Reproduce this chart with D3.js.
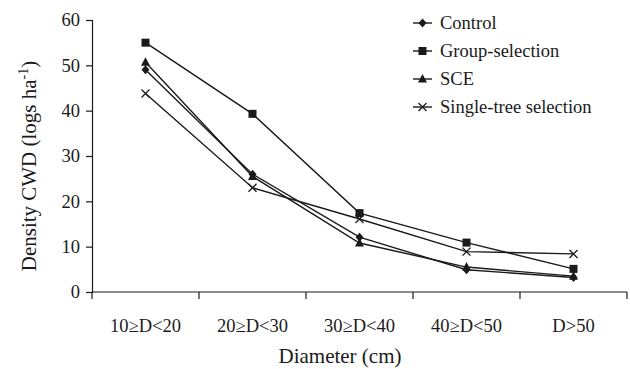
<!DOCTYPE html>
<html>
<head>
<meta charset="utf-8">
<script src="https://cdn.jsdelivr.net/npm/d3@7"></script>
<style>
  body { margin: 0; background: #fff; }
  svg { display: block; }
</style>
</head>
<body>
<svg id="chart" width="630" height="369" style="font-family: 'Liberation Serif', 'Times New Roman', serif"></svg>
<script>
const categories = ['10≥D<20', '20≥D<30', '30≥D<40', '40≥D<50', 'D>50'];
const control = [49.0, 26.0, 12.1, 4.9, 3.2];
const groupSelection = [55.0, 39.3, 17.4, 10.9, 5.1];
const sce = [50.7, 25.5, 10.8, 5.5, 3.5];
const singleTree = [43.8, 23.0, 16.1, 8.9, 8.4];
const yTicks = [0, 10, 20, 30, 40, 50, 60];

const series = [
  { name: 'Control', values: control, marker: 'diamond' },
  { name: 'Group-selection', values: groupSelection, marker: 'square' },
  { name: 'SCE', values: sce, marker: 'triangle' },
  { name: 'Single-tree selection', values: singleTree, marker: 'cross' },
];

const ink = '#1a1a1a';
const serif = "'Liberation Serif', 'Times New Roman', serif";
const margin = { top: 20, right: 3, bottom: 77, left: 92 };
const W = 630, H = 369;
const svg = d3.select('#chart');
const g = svg.append('g').attr('transform', `translate(${margin.left},${margin.top})`);
const iw = W - margin.left - margin.right;
const ih = H - margin.top - margin.bottom;

const x = d3.scaleBand().domain(categories).range([0, iw]);
const y = d3.scaleLinear().domain([0, 60]).range([ih, 0]);

// y axis
const yAxis = g.append('g').call(d3.axisLeft(y).tickValues(yTicks).tickSize(6).tickPadding(6));
yAxis.attr('font-family', null).attr('font-size', null);
yAxis.selectAll('text').attr('fill', ink).style('font-family', serif).style('font-size', '18.5px');
yAxis.selectAll('line,path').attr('stroke', ink).attr('stroke-width', 1.2);

// x axis: ticks on band boundaries
const xg = g.append('g').attr('transform', `translate(0,${ih})`);
xg.append('line').attr('x1', 0).attr('x2', iw).attr('stroke', ink).attr('stroke-width', 1.2);
const bounds = categories.map(c => x(c)).concat([iw]);
xg.selectAll('.xt').data(bounds).enter().append('line')
  .attr('x1', d => d).attr('x2', d => d).attr('y1', 0).attr('y2', 7)
  .attr('stroke', ink).attr('stroke-width', 1.2);
xg.selectAll('.xl').data(categories).enter().append('text')
  .attr('x', d => x(d) + x.bandwidth() / 2).attr('y', 40)
  .attr('text-anchor', 'middle').attr('fill', ink)
  .style('font-family', serif).style('font-size', '18.5px').text(d => d);

// axis titles
svg.append('text').attr('x', 340).attr('y', 363).attr('text-anchor', 'middle')
  .attr('fill', ink).style('font-family', serif).style('font-size', '21px').text('Diameter (cm)');
const yt = svg.append('text').attr('transform', 'translate(36,166) rotate(-90)')
  .attr('text-anchor', 'middle').attr('fill', ink)
  .style('font-family', serif).style('font-size', '21px');
yt.append('tspan').text('Density CWD (logs ha');
yt.append('tspan').attr('dy', -8).style('font-size', '14px').text('-1');
yt.append('tspan').attr('dy', 8).text(')');

const cx = (d, i) => x(categories[i]) + x.bandwidth() / 2;
const line = d3.line().x(cx).y(d => y(d));

function drawMarker(sel, type, px, py) {
  if (type === 'diamond') {
    sel.append('path').attr('d', `M${px},${py - 4.5}L${px + 4},${py}L${px},${py + 4.5}L${px - 4},${py}Z`).attr('fill', ink);
  } else if (type === 'square') {
    sel.append('rect').attr('x', px - 4).attr('y', py - 4).attr('width', 8).attr('height', 8).attr('fill', ink);
  } else if (type === 'triangle') {
    sel.append('path').attr('d', `M${px},${py - 5}L${px + 4.5},${py + 3.5}L${px - 4.5},${py + 3.5}Z`).attr('fill', ink);
  } else {
    sel.append('path').attr('d', `M${px - 4},${py - 4}L${px + 4},${py + 4}M${px - 4},${py + 4}L${px + 4},${py - 4}`)
      .attr('stroke', ink).attr('stroke-width', 1.3).attr('fill', 'none');
  }
}

series.forEach(s => {
  g.append('path').datum(s.values).attr('d', line)
    .attr('fill', 'none').attr('stroke', ink).attr('stroke-width', 1.4);
  const mg = g.append('g');
  s.values.forEach((v, i) => drawMarker(mg, s.marker, cx(v, i), y(v)));
});

// legend
const lg = svg.append('g').attr('transform', 'translate(413,23)');
series.forEach((s, i) => {
  const row = lg.append('g').attr('transform', `translate(0,${i * 28})`);
  row.append('line').attr('x1', 0).attr('x2', 19).attr('stroke', ink).attr('stroke-width', 1.4);
  drawMarker(row, s.marker, 9.5, 0);
  row.append('text').attr('x', 27).attr('y', 0).attr('dy', '0.35em')
    .attr('fill', ink).style('font-family', serif).style('font-size', '18.5px').text(s.name);
});
</script>
</body>
</html>
